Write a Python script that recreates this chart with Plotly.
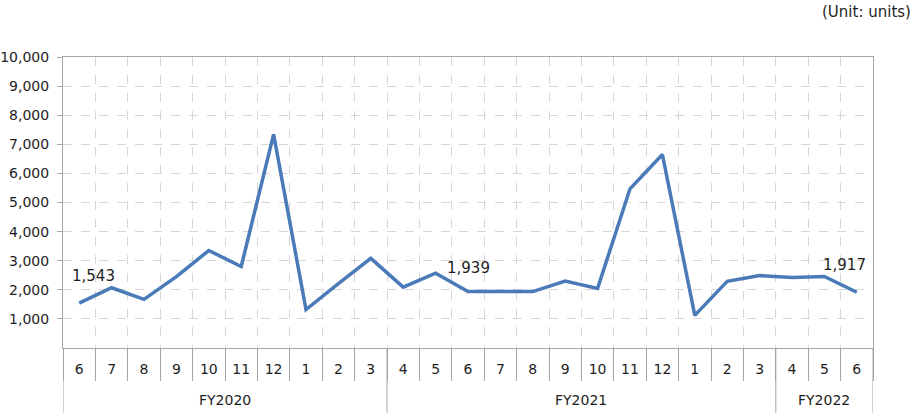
import plotly.graph_objects as go

fiscal_years = ["FY2020"] * 10 + ["FY2021"] * 12 + ["FY2022"] * 3
months = ["6", "7", "8", "9", "10", "11", "12", "1", "2", "3",
          "4", "5", "6", "7", "8", "9", "10", "11", "12", "1", "2", "3",
          "4", "5", "6"]
units = [1543, 2070, 1670, 2450, 3350, 2800, 7340, 1320, 2210, 3080,
         2090, 2570, 1939, 1940, 1940, 2300, 2050, 5470, 6650, 1120, 2290, 2490,
         2420, 2460, 1917]

group_names = ["FY2020", "FY2021", "FY2022"]
labels = [(0, 14, 27), (12, 0, 24), (24, -12, 27)]
y_ticks = [1000 * i for i in range(1, 11)]

font_family = "DejaVu Sans, Verdana, sans-serif"
axis_col = "#a6a6a6"
grid_col = "#d6d6d6"
text_col = "#1e1e1e"

cat_ids = [f"{fy} {m}" for fy, m in zip(fiscal_years, months)]

fig = go.Figure()
fig.add_trace(go.Scatter(
    x=cat_ids, y=units, mode="lines",
    line=dict(color="#4a7ab8", width=3.5), hoverinfo="skip",
))

for idx, xs, ys in labels:
    fig.add_annotation(x=cat_ids[idx], y=units[idx], text=f"{units[idx]:,}",
                       showarrow=False, yshift=ys, xshift=xs,
                       font=dict(size=15, color=text_col, family=font_family))

# group labels and dividers
bounds = [-0.5]
for g in group_names:
    n = fiscal_years.count(g)
    start = bounds[-1]
    bounds.append(start + n)
    fig.add_annotation(x=start + n / 2, y=-0.179, xref="x", yref="paper",
                       text=g, showarrow=False, yanchor="middle",
                       font=dict(size=14, color=text_col, family=font_family))
for b in bounds:
    fig.add_shape(type="line", xref="x", yref="paper", x0=b, x1=b, y0=0, y1=-0.223,
                  line=dict(color=axis_col, width=1))

fig.add_annotation(xref="paper", yref="paper", x=1.049, y=1.155, xanchor="right",
                   yanchor="middle", text="(Unit: units)", showarrow=False,
                   font=dict(size=15, color=text_col, family=font_family))

fig.update_layout(
    width=922, height=420,
    margin=dict(l=63, r=49, t=57, b=72),
    paper_bgcolor="white", plot_bgcolor="white",
    showlegend=False,
    font=dict(family=font_family, size=14, color=text_col),
)
fig.update_xaxes(
    type="category", tickmode="array", tickvals=cat_ids, ticktext=months,
    tickson="boundaries", ticks="outside", ticklen=32,
    tickcolor=axis_col, showgrid=True, gridcolor=grid_col, griddash="dash",
    showline=True, linecolor=axis_col, linewidth=1, mirror=True,
    ticklabelstandoff=8,
    tickfont=dict(size=14, color=text_col), automargin=False,
    range=[-0.5, len(cat_ids) - 0.5],
)
fig.update_yaxes(
    range=[0, 10000], tickvals=y_ticks, tickformat=",d",
    showgrid=True, gridcolor=grid_col, griddash="dash",
    ticks="outside", ticklen=5, tickcolor=axis_col,
    showline=True, linecolor=axis_col, linewidth=1, zeroline=False, mirror=True,
    ticklabelstandoff=5,
    tickfont=dict(size=14, color=text_col), automargin=False,
)

fig.write_html("out.html", config={"displayModeBar": False},
               post_script="document.body.style.margin='0';")
